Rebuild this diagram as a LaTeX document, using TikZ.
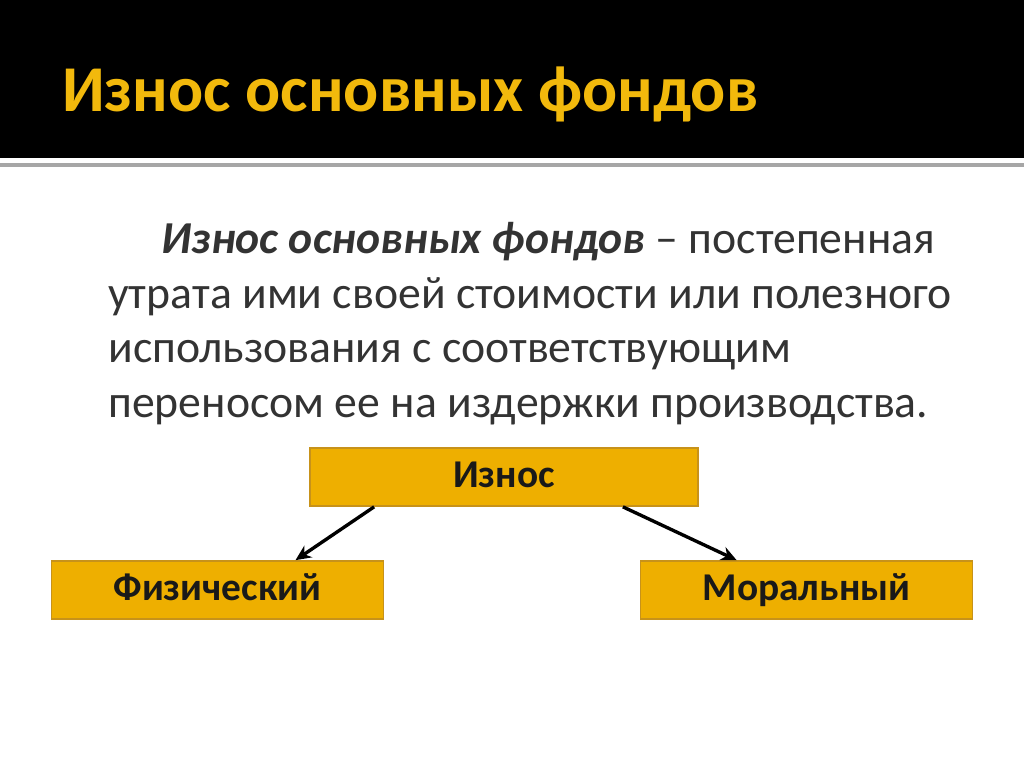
\documentclass[tikz,border=0pt]{standalone}
\usepackage{fontspec}
\setmainfont{Carlito}
\usetikzlibrary{positioning,calc,arrows.meta}
\definecolor{gold}{HTML}{EEAF00}
\definecolor{goldline}{HTML}{C7921A}
\definecolor{titlegold}{HTML}{F2B90C}
\definecolor{bodygray}{HTML}{333333}
\tikzset{
  kindbox/.style={draw=goldline, line width=1.2pt, fill=gold, minimum height=1.45cm,
    text height=20pt, text depth=5pt,
    font=\fontsize{28}{32}\selectfont\bfseries, text=black!90},
  branch/.style={-{Stealth[length=11pt,width=10pt]}, line width=2.4pt}
}
\begin{document}
\begin{tikzpicture}[x=0.025cm,y=-0.025cm]
\useasboundingbox (0,0) rectangle (1024,768);
\fill[white] (0,0) rectangle (1024,768);
\fill[black] (0,0) rectangle (1024,158);
\fill[black!35] (0,163) rectangle (1024,167);

\node[anchor=base west, text=titlegold, font=\fontsize{46.5}{52}\selectfont\bfseries, inner sep=0]
  (title) at (62,112) {Износ основных фондов};

\node[anchor=north west, text=bodygray, align=left, inner sep=0,
  font=\fontsize{32.5}{38.9}\selectfont] (defn) at (108,222)
  {\hspace*{38pt}\textbf{\textit{Износ основных фондов}} – постепенная\\
   утрата ими своей стоимости или полезного\\
   использования с соответствующим\\
   переносом ее на издержки производства.};

\node[kindbox, minimum width=9.7cm] (iznos) at (504,477) {Износ};
\node[kindbox, minimum width=8.3cm] (phys) at (217.5,590) {Физический};
\node[kindbox, minimum width=8.3cm] (moral) at (806.5,590) {Моральный};

\draw[branch] ($(iznos.south west)+(65,0)$) -- ($(phys.north)+(78,0)$);
\draw[branch] ($(iznos.south east)+(-76,0)$) -- ($(moral.north west)+(97,0)$);
\end{tikzpicture}
\end{document}
